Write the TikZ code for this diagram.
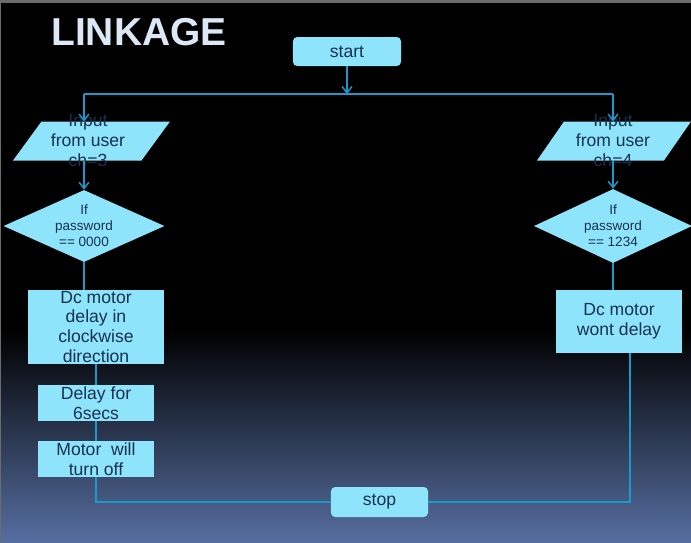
\documentclass[tikz,border=0pt]{standalone}
\usepackage{fontspec}
\setmainfont{Liberation Sans}
\usetikzlibrary{
	shapes,
	calc,
	arrows.meta}
\definecolor{boxcyan}{RGB}{142,228,251}
\definecolor{linkblue}{RGB}{28,152,204}
\definecolor{labelnavy}{RGB}{24,48,78}
\definecolor{titlewhite}{RGB}{221,232,246}
\definecolor{slideblue}{RGB}{86,110,160}
\definecolor{bargrey}{RGB}{108,108,108}

\begin{document}
\begin{tikzpicture}[x=0.025cm,y=-0.025cm,auto,
    every text node part/.style={align=center},
    >={Straight Barb[length=4.5pt,width=7pt]},
    link/.style={draw=linkblue,line width=1pt},
    flowbox/.style={fill=boxcyan,text=labelnavy,inner sep=0pt,
      font=\fontsize{12.5}{14.2}\selectfont},
    termbox/.style={flowbox,rectangle,rounded corners=3pt},
    testbox/.style={flowbox,diamond,aspect=2.2,
      font=\fontsize{9.6}{11.3}\selectfont},
    iotext/.style={text=labelnavy,inner sep=0pt,
      font=\fontsize{12.5}{14.2}\selectfont}]
  \useasboundingbox (0,0) rectangle (691,542);
    % Slide
  \fill [black] (0,0) rectangle (691,331);
  \shade [top color=black,bottom color=slideblue] (0,330) rectangle (691,542);
  \fill [bargrey] (0,0) rectangle (691,3);
  \fill [bargrey] (0,0) rectangle (1,542);
  \node (title) [anchor=base west,inner sep=0pt,text=titlewhite,
    font=\bfseries\fontsize{27.7}{30}\selectfont] at (51,45) {LINKAGE};

    % Flow Chart
  \node (start) [termbox,minimum width=2.7cm,minimum height=0.725cm] at (347,51.5) {start};
  % input parallelograms
  \coordinate (in3) at (91.5,141);
  \coordinate (inR) at (614,141);
  \fill [boxcyan] ($(in3)+(-78.5,19.5)$) -- ($(in3)+(50,19.5)$) -- ($(in3)+(78.5,-19.5)$)
    -- ($(in3)+(-50,-19.5)$) -- cycle;
  \fill [boxcyan] ($(inR)+(-77,19.5)$) -- ($(inR)+(50,19.5)$) -- ($(inR)+(77,-19.5)$)
    -- ($(inR)+(-50,-19.5)$) -- cycle;
  \coordinate (in3top) at ($(in3)+(0,-19.5)$);
  \coordinate (in3bot) at ($(in3)+(0,19.5)$);
  \coordinate (inRtop) at ($(inR)+(0,-19.5)$);
  \coordinate (inRbot) at ($(inR)+(0,19.5)$);
  \node (in3t) [iotext] at (88,141) {Input\\from user\\ch=3};
  \node (inRt) [iotext] at (613,141) {Input\\from user\\ch=4};
  \node (d3) [testbox,minimum width=4.025cm,minimum height=1.8cm] at (84,226) {If\\password\\== 0000};
  \node (dR) [testbox,minimum width=3.95cm,minimum height=1.85cm] at (613,226) {If\\password\\== 1234};
  \node (r1) [flowbox,minimum width=3.375cm,minimum height=1.85cm] at (96,327) {Dc motor\\delay in\\clockwise\\direction};
  \node (r2) [flowbox,minimum width=2.875cm,minimum height=0.9cm] at (96,403) {Delay for\\6secs};
  \node (r3) [flowbox,minimum width=2.875cm,minimum height=0.9cm] at (96,459) {Motor\ \ will\\turn off};
  \node (rR) [flowbox,minimum width=3.15cm,minimum height=1.575cm] at (619,321.5) {Dc motor\\wont delay};
  \node (stop) [termbox,minimum width=2.425cm,minimum height=0.75cm] at (379.5,502) {stop};

  \coordinate (forkL) at (84,94);
  \coordinate (forkR) at (613,94);
  \coordinate (fork) at (start.south |- forkL);
  \coordinate (rRout) at ($(rR.south)+(11,0)$);

  \draw [link]    (forkL) to (forkR);
  \draw [link,->] (start) to (fork);
  \draw [link,->] (forkL) to (forkL |- in3top);
  \draw [link,->] (forkR) to (forkR |- inRtop);
  \draw [link,->] (d3 |- in3bot) to (d3.north);
  \draw [link,->] (dR |- inRbot) to (dR.north);
  \draw [link]    (d3.south) to (d3.south |- r1.north);
  \draw [link]    (dR.south) to (dR.south |- rR.north);
  \draw [link]    (r1) to (r2);
  \draw [link]    (r2) to (r3);
  \draw [link]    (r3.south) |- (stop.west);
  \draw [link]    (rRout) |- (stop.east);

\end{tikzpicture}
\end{document}
